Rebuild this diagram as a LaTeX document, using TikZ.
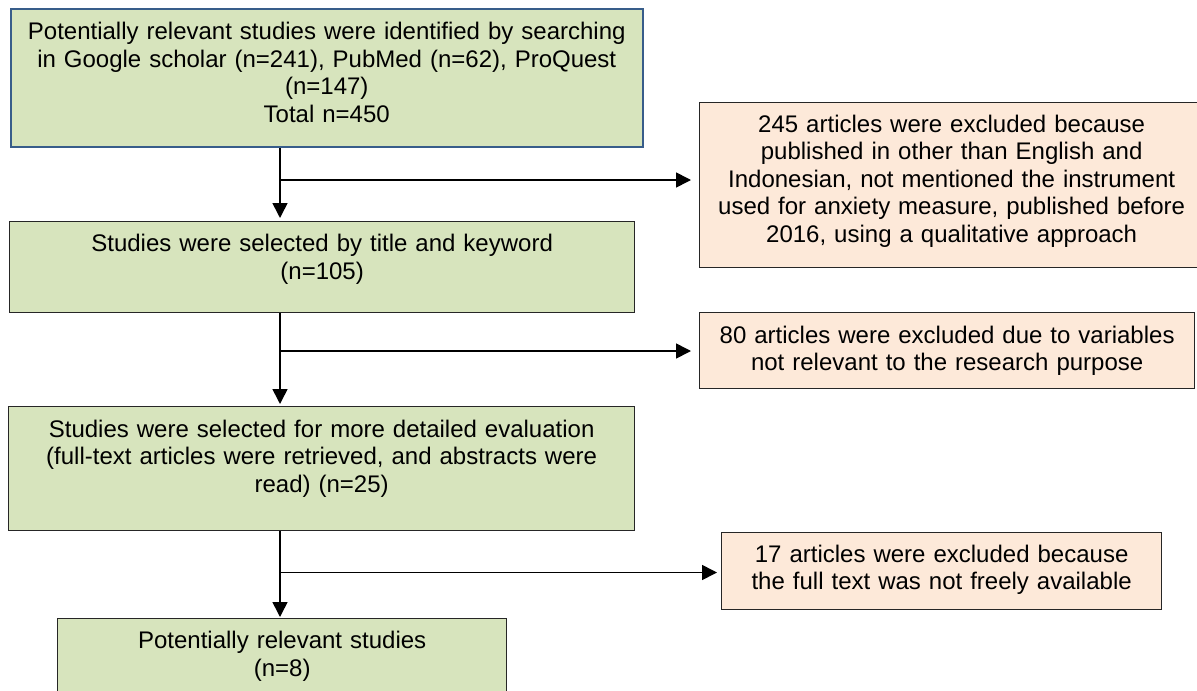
\documentclass[tikz,border=0pt]{standalone}
\usepackage{fontspec}
\setmainfont{Liberation Sans}
\usetikzlibrary{arrows.meta}
\definecolor{gfill}{HTML}{D7E4BD}
\definecolor{pfill}{HTML}{FDE9D9}
\definecolor{bborder}{HTML}{385D8A}
\begin{document}
\begin{tikzpicture}[x=1pt,y=-1pt,
  box/.style={draw=black!85, line width=0.65pt, inner sep=0pt, align=center,
    anchor=north west, font=\fontsize{12}{13.8}\selectfont},
  gbox/.style={box, fill=gfill},
  pbox/.style={box, fill=pfill},
  conn/.style={line width=0.8pt, draw=black},
  arr/.style={conn, -{Triangle[length=7.5pt,width=7.5pt]}}]
\useasboundingbox (0,0) rectangle (598.5,345);
\clip (0,0) rectangle (598.5,345);

\node[gbox, draw=bborder, line width=1pt, text width=316.25pt, text height=15.3pt, text depth=53.7pt] (a) at (4.75,4)
 {Potentially relevant studies were identified by searching\\ in Google scholar (n=241), PubMed (n=62), ProQuest\\ (n=147)\\ Total n=450};

\node[pbox, text width=252pt, text height=14.75pt, text depth=67.75pt] (b) at (349.5,51)
 {245 articles were excluded because\\ published in other than English and\\ Indonesian, not mentioned the instrument\\ used for anxiety measure, published before\\ 2016, using a qualitative approach};

\node[gbox, text width=312.5pt, text height=15pt, text depth=30.5pt] (c) at (4.5,110.5)
 {Studies were selected by title and keyword\\ (n=105)};

\node[pbox, text width=247.5pt, text height=15.3pt, text depth=22.7pt] (d) at (349.5,156)
 {80 articles were excluded due to variables\\ not relevant to the research purpose};

\node[gbox, text width=313pt, text height=15.3pt, text depth=46.7pt] (e) at (4,203)
 {Studies were selected for more detailed evaluation\\ (full-text articles were retrieved, and abstracts were\\ read) (n=25)};

\node[pbox, text width=220pt, text height=14.8pt, text depth=23.7pt] (f) at (360.5,266)
 {17 articles were excluded because\\ the full text was not freely available};

\node[gbox, text width=224.5pt, text height=15pt, text depth=30pt] (g) at (28.5,309)
 {Potentially relevant studies\\ (n=8)};

\coordinate (j1) at (140,90);
\coordinate (j2) at (140,175.5);
\coordinate (j3) at (140,286.25);

\draw[arr, shorten >=1.5pt] (a.south -| j1) -- (c.north -| j1);
\draw[arr, shorten >=4pt] (j1) -- (j1 -| b.west);
\draw[arr, shorten >=1pt] (c.south -| j2) -- (e.north -| j2);
\draw[arr, shorten >=4pt] (j2) -- (j2 -| d.west);
\draw[arr, shorten >=0.5pt] (e.south -| j3) -- (g.north -| j3);
\draw[arr, shorten >=2pt] (j3) -- (j3 -| f.west);
\end{tikzpicture}
\end{document}
